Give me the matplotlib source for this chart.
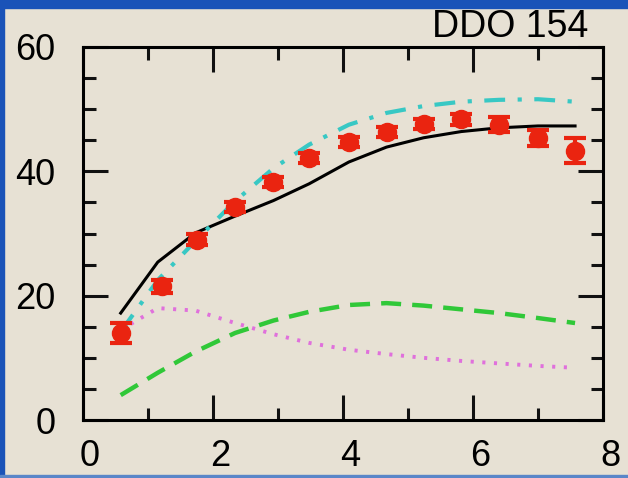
import matplotlib
matplotlib.use("Agg")
import matplotlib.pyplot as plt
import matplotlib.transforms as mtransforms
from matplotlib.patches import Rectangle
from matplotlib.ticker import MultipleLocator

plt.rcParams['font.family'] = ['Liberation Sans', 'DejaVu Sans']

# observed rotation curve (radius kpc, velocity km/s)
r_obs = [0.58, 1.22, 1.76, 2.34, 2.93, 3.48, 4.09, 4.67, 5.24, 5.82, 6.40, 7.00, 7.57]
v_obs = [14.0, 21.5, 29.0, 34.3, 38.3, 42.1, 44.7, 46.3, 47.6, 48.4, 47.5, 45.3, 43.3]
v_err = [1.6, 1.0, 0.9, 0.8, 0.8, 0.8, 0.8, 0.8, 0.8, 0.9, 1.2, 1.3, 2.0]

# model curves
r_mod = [0.58, 1.15, 1.73, 2.34, 2.93, 3.48, 4.09, 4.67, 5.24, 5.82, 6.40, 7.00, 7.57]
v_total = [17.2, 25.4, 30.1, 32.8, 35.3, 38.0, 41.5, 43.9, 45.4, 46.4, 47.0, 47.3, 47.3]
v_alt = [14.2, 22.5, 28.8, 35.2, 40.5, 44.3, 47.5, 49.4, 50.5, 51.2, 51.5, 51.6, 51.2]
v_gas = [4.0, 7.6, 11.0, 14.0, 16.0, 17.4, 18.5, 18.8, 18.4, 17.8, 17.2, 16.4, 15.6]
v_star = [14.5, 18.0, 17.6, 15.6, 13.8, 12.4, 11.3, 10.6, 10.0, 9.5, 9.1, 8.7, 8.4]

bg = '#e7e1d4'
fig = plt.figure(figsize=(6.28, 4.78), dpi=100)
fig.patch.set_facecolor(bg)

# blue slide frame
blue = '#1a53b8'
fig.add_artist(Rectangle((0, 1 - 8 / 478), 1, 8 / 478, transform=fig.transFigure, color=blue, zorder=0))
fig.add_artist(Rectangle((0, 0), 4 / 628, 1, transform=fig.transFigure, color=blue, zorder=0))
fig.add_artist(Rectangle((0, 0), 1, 3 / 478, transform=fig.transFigure, color='#5a86c8', zorder=0))

ax = fig.add_axes([83 / 628, 58 / 478, 520 / 628, 373 / 478])
ax.set_facecolor(bg)

ax.plot(r_mod, v_total, color='black', lw=2.2)
ax.plot(r_mod, v_alt, color='#38c8c4', lw=3, linestyle=(0, (5, 3, 1, 3)))
ax.plot(r_mod, v_gas, color='#30c838', lw=3.2, linestyle=(0, (4.5, 2.5)))
ax.plot(r_mod, v_star, color='#e070dc', lw=2.8, linestyle=(0, (0.8, 2.2)))
ax.errorbar(r_obs, v_obs, yerr=v_err, fmt='o', color='#ea2410', ms=13,
            elinewidth=3, capsize=8, capthick=3, zorder=5)

ax.set_xlim(0, 8)
ax.set_ylim(0, 60)
ax.xaxis.set_major_locator(MultipleLocator(2))
ax.xaxis.set_minor_locator(MultipleLocator(1))
ax.yaxis.set_major_locator(MultipleLocator(20))
ax.yaxis.set_minor_locator(MultipleLocator(5))

for s in ax.spines.values():
    s.set_linewidth(2.2)
ax.tick_params(which='both', direction='in', top=True, right=True, width=2.2,
               labelsize=26, color='#111111')
ax.tick_params(which='major', length=18)
ax.tick_params(which='minor', length=9)
ax.tick_params(axis='x', pad=14)
ax.tick_params(axis='y', pad=20)

shift = mtransforms.ScaledTranslation(7 / 100, 0, fig.dpi_scale_trans)
for lab in ax.get_xticklabels():
    lab.set_transform(lab.get_transform() + shift)

fig.text(588 / 628, 1 - 37 / 478, 'DDO 154', fontsize=27, ha='right', va='baseline')

fig.savefig('out.png', dpi=100, facecolor=fig.get_facecolor())
